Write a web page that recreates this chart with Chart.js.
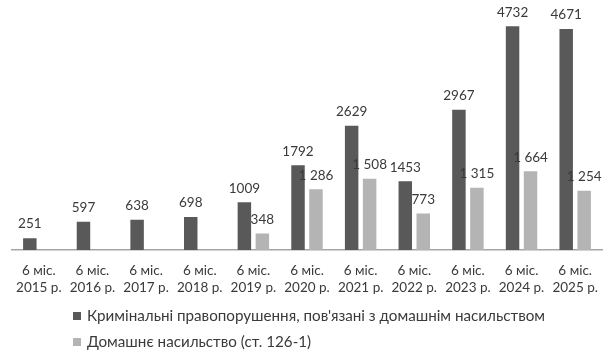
<!DOCTYPE html>
<html>
<head>
<meta charset="utf-8">
<script src="https://cdn.jsdelivr.net/npm/chart.js@4/dist/chart.umd.min.js"></script>
<style>
  html, body { margin: 0; padding: 0; background: #fff; }
  #wrap { width: 612px; height: 359px; }
</style>
</head>
<body>
<div id="wrap"><canvas id="chart"></canvas></div>
<script>
const periods = [
    ["6 міс.", "2015 р."], ["6 міс.", "2016 р."], ["6 міс.", "2017 р."],
    ["6 міс.", "2018 р."], ["6 міс.", "2019 р."], ["6 міс.", "2020 р."],
    ["6 міс.", "2021 р."], ["6 міс.", "2022 р."], ["6 міс.", "2023 р."],
    ["6 міс.", "2024 р."], ["6 міс.", "2025 р."]
];
const crimes = [251, 597, 638, 698, 1009, 1792, 2629, 1453, 2967, 4732, 4671];
const domestic = [null, null, null, null, 348, 1286, 1508, 773, 1315, 1664, 1254];

const crimesLabel = "Кримінальні правопорушення, пов'язані з домашнім насильством";
const domesticLabel = "Домашнє насильство (ст. 126-1)";

const dark = "#595959";
const light = "#b4b4b4";
const textColour = "#3a3a3a";
const font = "Lato, 'DejaVu Sans', sans-serif";

// space as thousands separator, as in the source for the second series
const spaced = v => String(v).replace(/\B(?=(\d{3})+(?!\d))/g, " ");

const valueLabels = {
    id: 'valueLabels',
    afterDatasetsDraw(chart) {
        const ctx = chart.ctx;
        ctx.save();
        ctx.font = `13.5px ${font}`;
        ctx.fillStyle = textColour;
        ctx.textAlign = 'center';
        ctx.textBaseline = 'middle';
        chart.data.datasets.forEach((ds, i) => {
            const meta = chart.getDatasetMeta(i);
            meta.data.forEach((bar, j) => {
                const v = ds.data[j];
                if (v == null) return;
                const txt = ds.spaced ? spaced(v) : String(v);
                ctx.fillText(txt, bar.x, bar.y - 14);
            });
        });
        ctx.restore();
    }
};

const sideLegend = {
    id: 'sideLegend',
    afterDraw(chart) {
        const ctx = chart.ctx;
        ctx.save();
        ctx.font = `15.2px ${font}`;
        ctx.textBaseline = 'middle';
        const rows = [316, 342];
        chart.data.datasets.forEach((ds, i) => {
            const y = rows[i];
            ctx.fillStyle = ds.backgroundColor;
            ctx.fillRect(73, y - 4, 8, 8);
            ctx.fillStyle = textColour;
            ctx.fillText(ds.label, 87, y);
        });
        ctx.restore();
    }
};

new Chart(document.getElementById('chart'), {
    type: 'bar',
    data: {
        labels: periods,
        datasets: [{
            label: crimesLabel,
            data: crimes,
            backgroundColor: dark,
            spaced: false,
            barPercentage: 0.75,
            categoryPercentage: 0.67
        }, {
            label: domesticLabel,
            data: domestic,
            backgroundColor: light,
            spaced: true,
            barPercentage: 0.75,
            categoryPercentage: 0.67
        }]
    },
    options: {
        responsive: true,
        maintainAspectRatio: false,
        animation: false,
        layout: {
            padding: {left: 12, right: 10, top: 13.5, bottom: 0}
        },
        plugins: {
            legend: {display: false},
            tooltip: {enabled: false}
        },
        scales: {
            x: {
                grid: {display: false},
                border: {display: true, color: "#a6a6a6", width: 1.5},
                ticks: {
                    color: textColour,
                    padding: 4,
                    maxRotation: 0,
                    autoSkip: false,
                    font: {family: font, size: 13.5, lineHeight: 1.25}
                },
                afterFit: s => { s.height = 109; }
            },
            y: {
                display: false,
                min: 0,
                max: 5000
            }
        }
    },
    plugins: [valueLabels, sideLegend]
});
</script>
</body>
</html>
